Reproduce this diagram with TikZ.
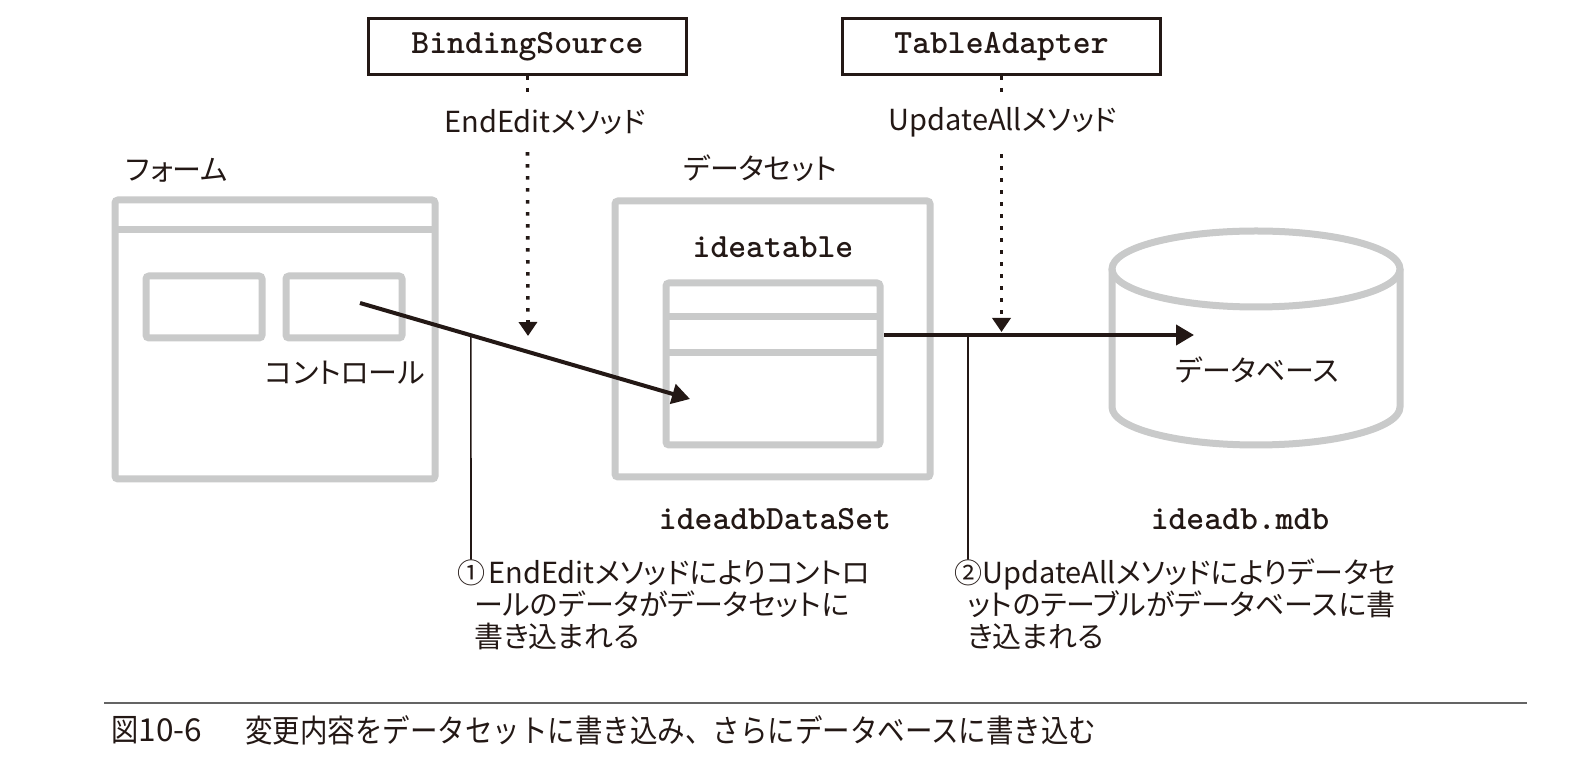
\documentclass[tikz,border=0pt]{standalone}
\usepackage{fontspec}
\usepackage{graphicx}
\usetikzlibrary{arrows.meta,calc}
\newfontfamily\jp{Noto Sans CJK JP}[RawFeature=+palt]
\newfontfamily\jpcap{Noto Sans CJK JP}
\definecolor{gr}{RGB}{201,202,202}
\definecolor{ink}{RGB}{35,24,21}
\definecolor{capline}{RGB}{100,100,100}
\begin{document}
\begin{tikzpicture}[x=0.5pt,y=-0.5pt,
  gbox/.style={draw=gr,line width=3.5pt,rounded corners=1.5pt},
  gline/.style={draw=gr,line width=3.5pt},
  kbox/.style={draw=ink,line width=1.6pt,minimum width=158.9pt,minimum height=27.9pt,inner sep=0pt,
    font=\ttfamily\bfseries\fontsize{17}{20}\selectfont,text=ink},
  jl/.style={font=\jp\fontsize{14.5}{16}\selectfont,text=ink,inner sep=0pt},
  jline/.style={jl,anchor=base west},
  circnum/.style={font=\jp\fontsize{14}{16}\selectfont,text=ink,inner sep=0pt},
  mono/.style={font=\ttfamily\bfseries\fontsize{17}{20}\selectfont,text=ink,inner sep=0pt},
  capstyle/.style={anchor=west,inner sep=0pt,text=ink,font=\jpcap\fontsize{15.8}{18}\selectfont},
  bigarrow/.style={draw=ink,line width=2pt,-{Triangle[length=9pt,width=10pt]}},
  dotline/.style={draw=ink,line width=1.8pt,dash pattern=on 1.8pt off 4.2pt},
  dotarrow/.style={dotline,-{Triangle[length=7pt,width=9pt]}},
  leader/.style={draw=ink,line width=0.8pt}
]
\useasboundingbox (0,0) rectangle (1586,758);

% form
\draw[gbox] (115,200) rectangle (435,479);
\draw[gline] (115,230) -- (435,230);
\draw[gbox] (146,276) rectangle (262,338);
\draw[gbox] (286,276) rectangle (402,338);
\node[jl] (form) at (177,170) {フォーム};
\node[jl] (ctrl) at (345,373) {コントロール};

% dataset
\draw[gbox] (615,201) rectangle (930,477);
\draw[gbox] (666,283) rectangle (880,445);
\draw[gline] (666,317) -- (880,317);
\draw[gline] (666,353) -- (880,353);
\node[jl] (dslabel) at (760,168) {データセット};
\node[mono] (itable) at (773,247) {ideatable};
\node[mono] (dsname) at (775,519) {ideadbDataSet};

% database cylinder
\draw[gline] (1256,269) ellipse [x radius=72pt,y radius=19pt];
\draw[gline] (1112,269) -- (1112,407) arc[start angle=180,end angle=360,x radius=72pt,y radius=19pt] -- (1400,269);
\node[jl] (dblabel) at (1257,370) {データベース};
\node[mono] (dbname) at (1240,519) {ideadb.mdb};

% top boxes
\node[kbox] (bs) at (527.5,46.5) {BindingSource};
\node[kbox] (ta) at (1001.5,46.5) {TableAdapter};
\node[jl] (l1) at (545,122) {EndEditメソッド};
\node[jl] (l2) at (1003,122) {UpdateAllメソッド};

\coordinate (d1) at (528,336);
\coordinate (d2) at (1001.5,332);
\draw[dotline] (bs.south) -- ($(bs.south |- l1.north)+(0,-10)$);
\draw[dotarrow] ($(bs.south |- l1.south)+(0,17)$) -- (d1);
\draw[dotline] (ta.south) -- ($(ta.south |- l2.north)+(0,-10)$);
\draw[dotarrow] ($(ta.south |- l2.south)+(0,17)$) -- (d2);

% main arrows
\coordinate (s1) at (360,303);
\coordinate (t1) at (690,399);
\coordinate (s2) at (884,335);
\coordinate (t2) at (1194,335);
\draw[bigarrow] (s1) -- (t1);
\draw[bigarrow] (s2) -- (t2);

% annotations
\node[circnum] (c1) at (471,573) {①};
\node[circnum] (c2) at (968,573) {②};
\draw[leader] ($(s1)!0.336!(t1)$) -- (c1.north);
\draw[leader] ($(s2)!0.271!(t2)$) -- (c2.north);
\node[jline] (n1a) at (488,584) {EndEditメソッドによりコントロ};
\node[jline] (n1b) at (474,616) {ールのデータがデータセットに};
\node[jline] (n1c) at (474,648) {書き込まれる};
\node[jline] (n2a) at (982,584) {UpdateAllメソッドによりデータセ};
\node[jline] (n2b) at (967,616) {ットのテーブルがデータベースに書};
\node[jline] (n2c) at (967,648) {き込まれる};

% caption
\draw[draw=capline,line width=1pt] (104,703) -- (1527,703);
\node[capstyle] (capnum) at (111,730) {\scalebox{0.86}[1]{図}10-6};
\node[capstyle] (cap) at (245,730)
  {\scalebox{0.87}[1]{変更内容をデータセットに書き込み、さらにデータベースに書き込む}};
\end{tikzpicture}
\end{document}
